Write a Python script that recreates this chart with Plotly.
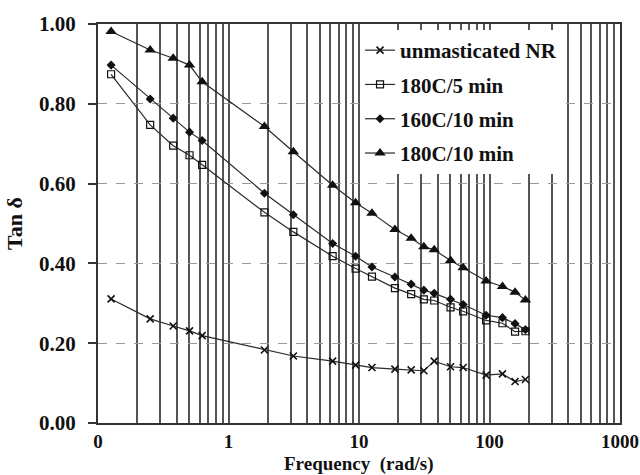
import plotly.graph_objects as go

freq = [0.126, 0.251, 0.377, 0.503, 0.628, 1.885, 3.14, 6.28, 9.42, 12.57,
        18.85, 25.1, 31.4, 37.7, 50.3, 62.8, 94.2, 125.7, 157.0, 188.5]

unmasticated = [0.311, 0.261, 0.243, 0.231, 0.219, 0.183, 0.168, 0.155, 0.145, 0.139,
                0.135, 0.133, 0.131, 0.155, 0.141, 0.139, 0.120, 0.123, 0.104, 0.109]
c180_5 = [0.874, 0.747, 0.695, 0.671, 0.647, 0.528, 0.479, 0.418, 0.387, 0.367,
          0.338, 0.323, 0.310, 0.307, 0.290, 0.280, 0.257, 0.250, 0.229, 0.230]
c160_10 = [0.897, 0.812, 0.764, 0.729, 0.708, 0.576, 0.522, 0.450, 0.418, 0.391,
           0.366, 0.348, 0.333, 0.325, 0.310, 0.297, 0.270, 0.264, 0.249, 0.234]
c180_10 = [0.981, 0.935, 0.914, 0.897, 0.855, 0.743, 0.680, 0.596, 0.552, 0.526,
           0.485, 0.463, 0.442, 0.434, 0.407, 0.389, 0.356, 0.342, 0.328, 0.308]

series_names = ["unmasticated NR", "180C/5 min", "160C/10 min", "180C/10 min"]
x_tick_labels = ["0", "1", "10", "100", "1000"]
y_ticks = [0.0, 0.2, 0.4, 0.6, 0.8, 1.0]
x_title = "Frequency  (rad/s)"
y_title = "Tan δ"

# log-axis tick values: decades labelled, 2..9 unlabelled (for grid)
decades = [0.1, 1, 10, 100, 1000]
tickvals, ticktext = [], []
for i, d in enumerate(decades):
    tickvals.append(d)
    ticktext.append(x_tick_labels[i])
    if d < 1000:
        for m in range(2, 10):
            tickvals.append(d * m)
            ticktext.append("")

FONT = "Liberation Serif"
LINE = "#2a2a2a"

styles = [
    dict(symbol="x-thin-open", size=7, line=dict(width=1.6, color="#111"), color="#111"),
    dict(symbol="square-open", size=7, line=dict(width=1.2, color="#111"), color="#111"),
    dict(symbol="diamond", size=7, color="#111", line=dict(width=0)),
    dict(symbol="triangle-up", size=10, color="#111", line=dict(width=0)),
]
data = [unmasticated, c180_5, c160_10, c180_10]

fig = go.Figure()
for name, ys, st in zip(series_names, data, styles):
    fig.add_trace(go.Scatter(
        x=freq, y=ys, name=name, mode="lines+markers",
        line=dict(color=LINE, width=1.2),
        marker=st, legendgroup=name,
    ))

fig.update_layout(
    width=640, height=475,
    margin=dict(l=98, r=20, t=24, b=52),
    paper_bgcolor="white", plot_bgcolor="white",
    font=dict(family=FONT, size=20, color="#111", weight="bold"),
    showlegend=True,
    legend=dict(
        x=0.502, y=0.985, xanchor="left", yanchor="top",
        bgcolor="white", borderwidth=0,
        font=dict(family=FONT, size=21, color="#111", weight="bold"),
        tracegroupgap=4, itemwidth=30,
    ),
    annotations=[dict(
        text=x_title, xref="paper", yref="paper", x=0.5, y=-0.104,
        xanchor="center", yanchor="middle", showarrow=False,
        font=dict(family=FONT, size=19, color="#111", weight="bold"),
    )],
)

fig.update_xaxes(
    type="log", range=[-1, 3],
    tickvals=tickvals, ticktext=ticktext,
    showgrid=True, gridcolor="#555555", gridwidth=1.6,
    showline=True, linecolor="#333", linewidth=2, mirror=True,
    ticks="",
    ticklabeloverflow="allow",
    tickfont=dict(family=FONT, size=19, color="#111", weight="bold"),
    zeroline=False, automargin=False,
)
fig.update_yaxes(
    range=[0, 1], tickvals=y_ticks, tickformat=".2f",
    showgrid=True, gridcolor="#9a9a9a", gridwidth=1.2, griddash="dash",
    showline=True, linecolor="#333", linewidth=2, mirror=True,
    ticks="outside", ticklen=8, tickcolor="#333", tickwidth=1.5,
    ticklabelstandoff=8,
    tickfont=dict(family=FONT, size=21, color="#111", weight="bold"),
    title=dict(text=y_title, standoff=10,
               font=dict(family=FONT, size=22, color="#111", weight="bold")),
    zeroline=False, automargin=False,
)

fig.write_html("out.html")
